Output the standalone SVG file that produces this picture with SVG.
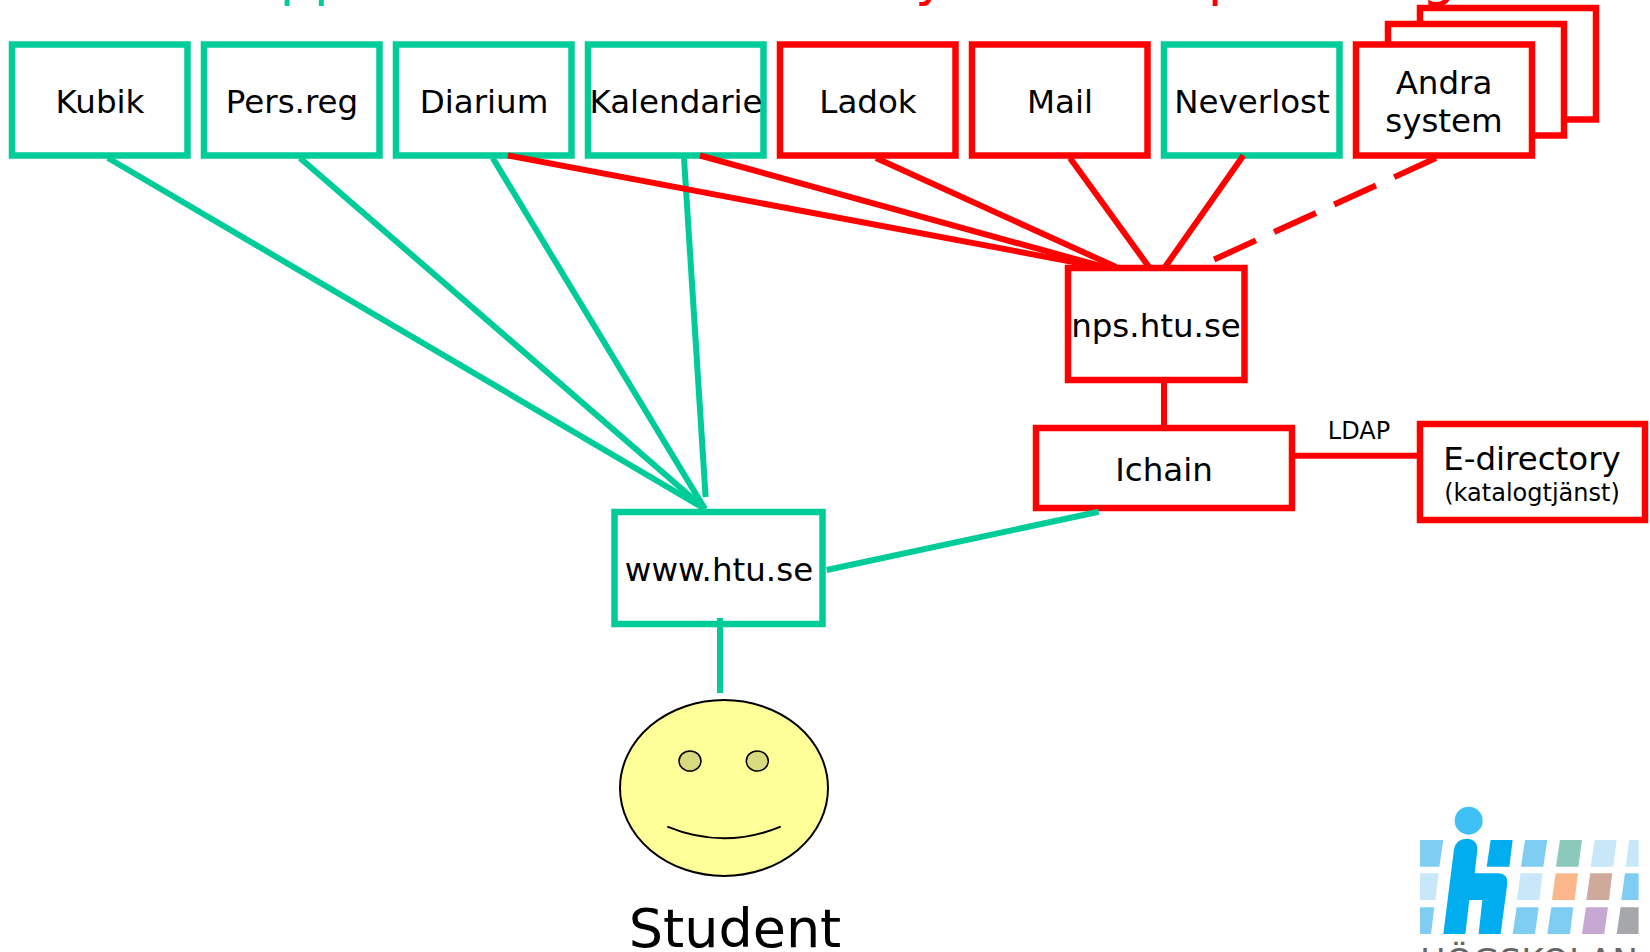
<svg xmlns="http://www.w3.org/2000/svg" width="1650" height="952" viewBox="0 0 1650 952">
<style>
text{font-family:"DejaVu Sans",sans-serif;fill:#000;text-anchor:middle}
.g{fill:#fff;stroke:#00cc99;stroke-width:6.5}
.r{fill:#fff;stroke:#ff0000;stroke-width:6.5}
.l{font-size:32.5px}
.cg line{stroke:#00cc99;stroke-width:6;fill:none}
.cr line{stroke:#ff0000;stroke-width:6;fill:none}
.head{font-size:54px}
</style>
<text class="head" x="314" y="-5" style="fill:#00cc99">pp</text>
<text class="head" x="931" y="-5" style="fill:#ff0000">y</text>
<text class="head" x="1225" y="-5" style="fill:#ff0000">p</text>
<text class="head" x="1439" y="-5" style="fill:#ff0000">g</text>
<g id="kubik"><rect class="g" x="12" y="44.5" width="175.5" height="111"/><text class="l" x="100" y="113">Kubik</text></g>
<g id="persreg"><rect class="g" x="204" y="44.5" width="175.5" height="111"/><text class="l" x="292" y="113">Pers.reg</text></g>
<g id="diarium"><rect class="g" x="396" y="44.5" width="175.5" height="111"/><text class="l" x="484" y="113">Diarium</text></g>
<g id="kalendarie"><rect class="g" x="588" y="44.5" width="175.5" height="111"/><text class="l" x="676" y="113">Kalendarie</text></g>
<g id="ladok"><rect class="r" x="780" y="44.5" width="175.5" height="111"/><text class="l" x="868" y="113">Ladok</text></g>
<g id="mail"><rect class="r" x="972" y="44.5" width="175.5" height="111"/><text class="l" x="1060" y="113">Mail</text></g>
<g id="neverlost"><rect class="g" x="1164" y="44.5" width="175.5" height="111"/><text class="l" x="1252" y="113">Neverlost</text></g>
<g id="andra">
<rect class="r" x="1420" y="8" width="176" height="111.5"/>
<rect class="r" x="1388" y="24" width="176" height="111.5"/>
<rect class="r" x="1356" y="44.5" width="176" height="111"/>
<text class="l" x="1444" y="94">Andra</text><text class="l" x="1444" y="131.5">system</text></g>
<g id="nps"><rect class="r" x="1068" y="268" width="176.5" height="112"/><text class="l" x="1156" y="337">nps.htu.se</text></g>
<g id="ichain"><rect class="r" x="1036" y="428" width="256" height="80"/><text class="l" x="1164" y="481">Ichain</text></g>
<g id="edirectory"><rect class="r" x="1420" y="424" width="225" height="96"/><text class="l" x="1532" y="470">E-directory</text><text x="1532" y="501" font-size="24">(katalogtjänst)</text></g>
<text id="ldap" x="1359" y="439" font-size="24">LDAP</text>
<g id="www"><rect class="g" x="614.5" y="512" width="208" height="112"/><text class="l" x="719" y="581">www.htu.se</text></g>
<g id="student">
<ellipse cx="724" cy="788" rx="104" ry="88" fill="#ffff99" stroke="#000" stroke-width="2"/>
<ellipse cx="690" cy="761" rx="11" ry="10" fill="#d9d97f" stroke="#000" stroke-width="1.5"/>
<ellipse cx="757.3" cy="761" rx="11" ry="10" fill="#d9d97f" stroke="#000" stroke-width="1.5"/>
<path d="M667.3 826.7Q724 850 780.7 826.7" fill="none" stroke="#000" stroke-width="2"/>
<text x="735" y="947" font-size="54">Student</text></g>
<g id="logo" transform="translate(1400 790) scale(.3333)">
<circle cx="206" cy="92" r="42" fill="#3fc1f5"/>
<path fill="#7fcdf2" d="M60 150H130L118 230H60ZM375 150H442L430 230H363ZM675 250H716V330H664ZM60 352H103L93 432H60ZM350 352H416L405 432H338ZM454 352H520L510 432H442Z"/>
<path fill="#8bc9bc" d="M480 150H546L535 230H468Z"/>
<path fill="#c8e8fa" d="M584 150H650L640 230H572ZM688 150H716V230H677ZM60 250H116L106 330H60ZM362 250H428L418 330H350Z"/>
<path fill="#fbb68c" d="M467 250H534L524 330H456Z"/>
<path fill="#cfaa9c" d="M571 250H637L627 330H559Z"/>
<path fill="#c6a8d2" d="M558 352H624L613 432H546Z"/>
<path fill="#a5a7aa" d="M662 352H716V432H650Z"/>
<path fill="#00aeef" d="M272 150H338L328 230H260ZM130 432L162 178Q168 146 200 146Q234 148 232 182L224 250H295Q324 252 322 280L302 432H236L247 330H208L196 432Z"/>
</g>
<text id="logotext" x="1529" y="973" font-size="34" textLength="218" lengthAdjust="spacingAndGlyphs" style="fill:#666">HÖGSKOLAN</text>
<g id="connectors">
<g class="cg">
<line x1="108" y1="158" x2="705" y2="509"/>
<line x1="300" y1="158" x2="705" y2="509"/>
<line x1="492.7" y1="158" x2="705" y2="509"/>
<line x1="684" y1="158" x2="705.6" y2="497"/>
<line x1="826.7" y1="570" x2="1098.7" y2="511.7"/>
<line x1="720" y1="618" x2="720" y2="693"/>
</g>
<g class="cr">
<line x1="508" y1="155.5" x2="1100" y2="267"/>
<line x1="700" y1="155.5" x2="1104" y2="267"/>
<line x1="876" y1="158" x2="1116" y2="267"/>
<line x1="1070" y1="158" x2="1149" y2="267"/>
<line x1="1243.4" y1="155.5" x2="1165" y2="267"/>
<line x1="1436" y1="158" x2="1213" y2="260" stroke-dasharray="46 20"/>
<line x1="1164" y1="382" x2="1164" y2="425"/>
<line x1="1294" y1="455.7" x2="1417" y2="455.7"/>
</g>
</g>
</svg>
